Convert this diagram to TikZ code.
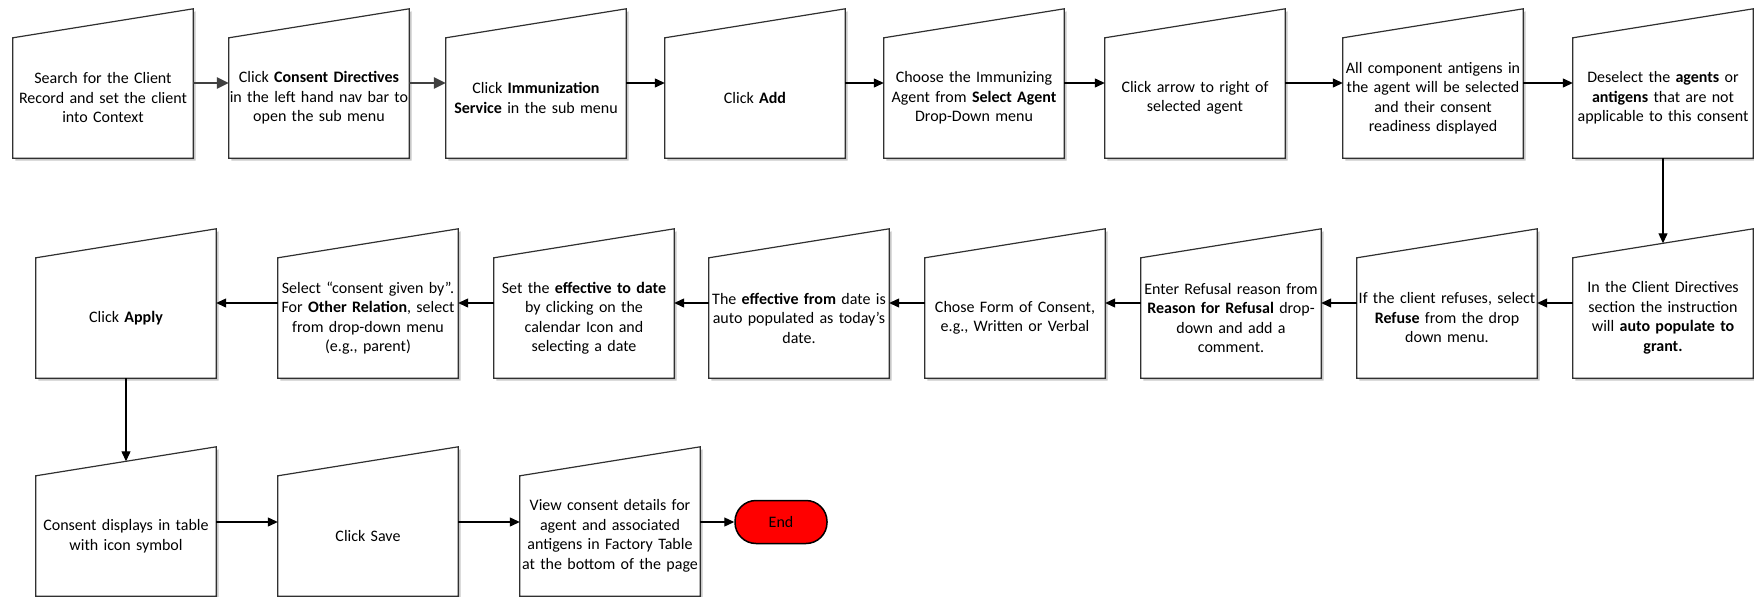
\documentclass[tikz,border=0pt]{standalone}
\usepackage{fontspec}
\setmainfont{Carlito}
\usetikzlibrary{arrows.meta,calc,backgrounds}
\definecolor{boxc}{HTML}{303030}
\definecolor{garr}{HTML}{404040}
\definecolor{shad}{HTML}{C8C8C8}
\newcommand\manshape[1]{%
  \begin{scope}[on background layer]
    \fill[shad] ($(#1.south west)+(2.5,2.5)$) -- ($(#1.south east)+(2.5,2.5)$) -- ($(#1.north east)+(2.5,-26.5)$) -- ($(#1.north west)+(2.5,31.5)$) -- cycle;
    \filldraw[fill=white,draw=boxc,line width=1.2pt] (#1.south west) -- (#1.south east) -- ($(#1.north east)+(0,-29)$) -- (#1.north west) -- cycle;
  \end{scope}}
\begin{document}
\begin{tikzpicture}[x=1pt,y=-1pt,
  pbox/.style={minimum width=180pt,minimum height=120pt,inner sep=0pt,text width=180pt,align=center,font=\fontsize{16}{19.5}\selectfont},
  arr/.style={draw=black,line width=1.2pt,-{Triangle[length=10pt,width=9pt]}},
  garrow/.style={draw=garr,line width=2.4pt,-{Triangle[length=12pt,width=11pt]}},
  endbox/.style={minimum width=92pt,minimum height=43pt,inner sep=0pt,rounded corners=21pt,fill=red,draw=black,line width=1.5pt,font=\fontsize{16}{19.5}\selectfont}]
\useasboundingbox (0,0) rectangle (1754,597);
% row 1 (rect part 38..158)
\node[pbox] (b1) at (103,98) {Search for the Client\\Record and set the client\\into Context};
\node[pbox] (b2) at (319,98) {Click \textbf{Consent Directives}\\in the left hand nav bar to\\open the sub menu};
\node[pbox] (b3) at (536,98) {Click \textbf{Immunization}\\\textbf{Service} in the sub menu};
\node[pbox] (b4) at (755,98) {Click \textbf{Add}};
\node[pbox] (b5) at (974,98) {Choose the Immunizing\\Agent from \textbf{Select Agent}\\Drop-Down menu};
\node[pbox] (b6) at (1195,98) {Click arrow to right of\\selected agent};
\node[pbox] (b7) at (1433,98) {All component antigens in\\the agent will be selected\\and their consent\\readiness displayed};
\node[pbox] (b8) at (1663,98) {Deselect the \textbf{agents} or\\\textbf{antigens} that are not\\applicable to this consent};
% row 2 (rect part 258..378)
\node[pbox] (r1) at (1663,318) {In the Client Directives\\section the instruction\\will \textbf{auto populate to}\\\textbf{grant.}};
\node[pbox] (r2) at (1447,318) {If the client refuses, select\\\textbf{Refuse} from the drop\\down menu.};
\node[pbox] (r3) at (1231,318) {Enter Refusal reason from\\\textbf{Reason for Refusal} drop-\\down and add a\\comment.};
\node[pbox] (r4) at (1015,318) {Chose Form of Consent,\\e.g., Written or Verbal};
\node[pbox] (r5) at (799,318) {The \textbf{effective from} date is\\auto populated as today’s\\date.};
\node[pbox] (r6) at (584,318) {Set the \textbf{effective to date}\\by clicking on the\\calendar Icon and\\selecting a date};
\node[pbox] (r7) at (368,318) {Select “consent given by”.\\For \textbf{Other Relation}, select\\from drop-down menu\\(e.g., parent)};
\node[pbox] (r8) at (126,318) {Click \textbf{Apply}};
% row 3 (rect part 476..596)
\node[pbox] (c1) at (126,536) {Consent displays in table\\with icon symbol};
\node[pbox] (c2) at (368,536) {Click Save};
\node[pbox] (c3) at (610,536) {View consent details for\\agent and associated\\antigens in Factory Table\\at the bottom of the page};
\node[endbox] (end) at (781,522) {End};
\foreach \n in {b1,b2,b3,b4,b5,b6,b7,b8,r1,r2,r3,r4,r5,r6,r7,r8,c1,c2,c3} {\manshape{\n}}
% connectors
\draw[garrow] ($(b1.east)+(0,-15)$) -- ($(b2.west)+(0,-15)$);
\draw[garrow] ($(b2.east)+(0,-15)$) -- ($(b3.west)+(0,-15)$);
\draw[arr] ($(b3.east)+(0,-15)$) -- ($(b4.west)+(0,-15)$);
\draw[arr] ($(b4.east)+(0,-15)$) -- ($(b5.west)+(0,-15)$);
\draw[arr] ($(b5.east)+(0,-15)$) -- ($(b6.west)+(0,-15)$);
\draw[arr] ($(b6.east)+(0,-15)$) -- ($(b7.west)+(0,-15)$);
\draw[arr] ($(b7.east)+(0,-15)$) -- ($(b8.west)+(0,-15)$);
\draw[arr] (b8.south) -- ($(r1.north)+(0,-14.5)$);
\draw[arr] ($(r1.west)+(0,-15)$) -- ($(r2.east)+(0,-15)$);
\draw[arr] ($(r2.west)+(0,-15)$) -- ($(r3.east)+(0,-15)$);
\draw[arr] ($(r3.west)+(0,-15)$) -- ($(r4.east)+(0,-15)$);
\draw[arr] ($(r4.west)+(0,-15)$) -- ($(r5.east)+(0,-15)$);
\draw[arr] ($(r5.west)+(0,-15)$) -- ($(r6.east)+(0,-15)$);
\draw[arr] ($(r6.west)+(0,-15)$) -- ($(r7.east)+(0,-15)$);
\draw[arr] ($(r7.west)+(0,-15)$) -- ($(r8.east)+(0,-15)$);
\draw[arr] (r8.south) -- ($(c1.north)+(0,-14.5)$);
\draw[arr] ($(c1.east)+(0,-14)$) -- ($(c2.west)+(0,-14)$);
\draw[arr] ($(c2.east)+(0,-14)$) -- ($(c3.west)+(0,-14)$);
\draw[arr] ($(c3.east)+(0,-14)$) -- (end.west);
\end{tikzpicture}
\end{document}
